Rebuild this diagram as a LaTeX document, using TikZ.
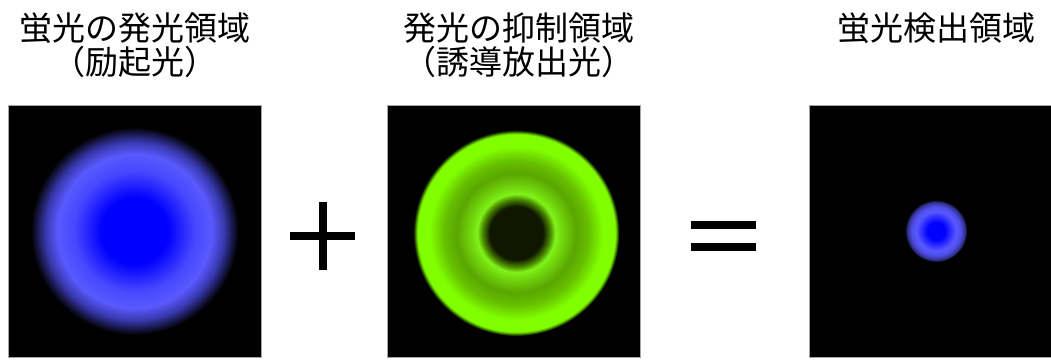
\documentclass[tikz,border=0pt]{standalone}
\usepackage{fontspec}
\newfontfamily\jpfont{Noto Sans CJK JP}
\usetikzlibrary{positioning}

% radial profiles, 25bp = rim of the shaded circle
\pgfdeclareradialshading{excitespot}{\pgfpoint{0bp}{0bp}}{%
  rgb(0bp)=(0,0,1); rgb(8bp)=(0,0,1); rgb(14.5bp)=(.28,.28,1);
  rgb(18.5bp)=(.35,.35,1); rgb(21.5bp)=(.22,.22,.68); rgb(25bp)=(0,0,0);
  rgb(50bp)=(0,0,0)}
\pgfdeclareradialshading{depletering}{\pgfpoint{0bp}{0bp}}{%
  rgb(0bp)=(.06,.09,0); rgb(6.5bp)=(.06,.09,0); rgb(8.3bp)=(.3,.55,0);
  rgb(9.5bp)=(.5,.95,.1); rgb(11bp)=(.45,.85,.05); rgb(14.5bp)=(.35,.65,0);
  rgb(17.5bp)=(.4,.75,0); rgb(21bp)=(.5,1,0); rgb(24bp)=(.5,1,0);
  rgb(25bp)=(0,0,0); rgb(50bp)=(0,0,0)}
\pgfdeclareradialshading{detectspot}{\pgfpoint{0bp}{0bp}}{%
  rgb(0bp)=(0,0,1); rgb(7bp)=(0,0,1); rgb(16bp)=(.35,.35,1);
  rgb(20bp)=(.3,.3,.9); rgb(23.5bp)=(.18,.18,.5); rgb(25bp)=(0,0,0);
  rgb(50bp)=(0,0,0)}

\tikzset{
    panel/.style = {rectangle, minimum width=253, minimum height=252, inner sep=0, fill=black, draw=gray!70, line width=0.8pt},
    title/.style = {anchor=north, align=center, inner sep=0, font=\jpfont\fontsize{33}{34}\selectfont},
    sign/.style = {rectangle, inner sep=0, minimum width=65},
    bar/.style = {line width=8pt, line cap=butt}
}

\begin{document}
\begin{tikzpicture}[x=1pt, y=-1pt]
\useasboundingbox (0,0) rectangle (1051,360);

\node (excite) [panel] at (134.5,231) {};
\node (deplete) [panel, right=126pt of excite] {};
\node (detect) [panel, right=168pt of deplete] {};

\shade [shading=excitespot] (excite.center) circle [radius=104];
\shade [shading=depletering] ([shift={(2,2)}]deplete.center) circle [radius=103];
\shade [shading=detectspot] (detect.center) circle [radius=31];

\node (excitetitle) [title] at (excite |- 0,13) {蛍光の発光領域\\（励起光）};
\node (depletetitle) [title, xshift=5] at (deplete |- 0,13) {発光の抑制領域\\（誘導放出光）};
\node (detecttitle) [title] at (detect |- 0,13) {蛍光検出領域};

% operators between the panels
\node (plus) [sign, minimum height=67] at (322.7,236) {};
\draw [bar] (plus.west) -- (plus.east);
\draw [bar] (plus.north) -- (plus.south);
\node (equals) [sign, minimum height=22] at (723.3,236) {};
\draw [bar] (equals.north west) -- (equals.north east);
\draw [bar] (equals.south west) -- (equals.south east);
\end{tikzpicture}
\end{document}
